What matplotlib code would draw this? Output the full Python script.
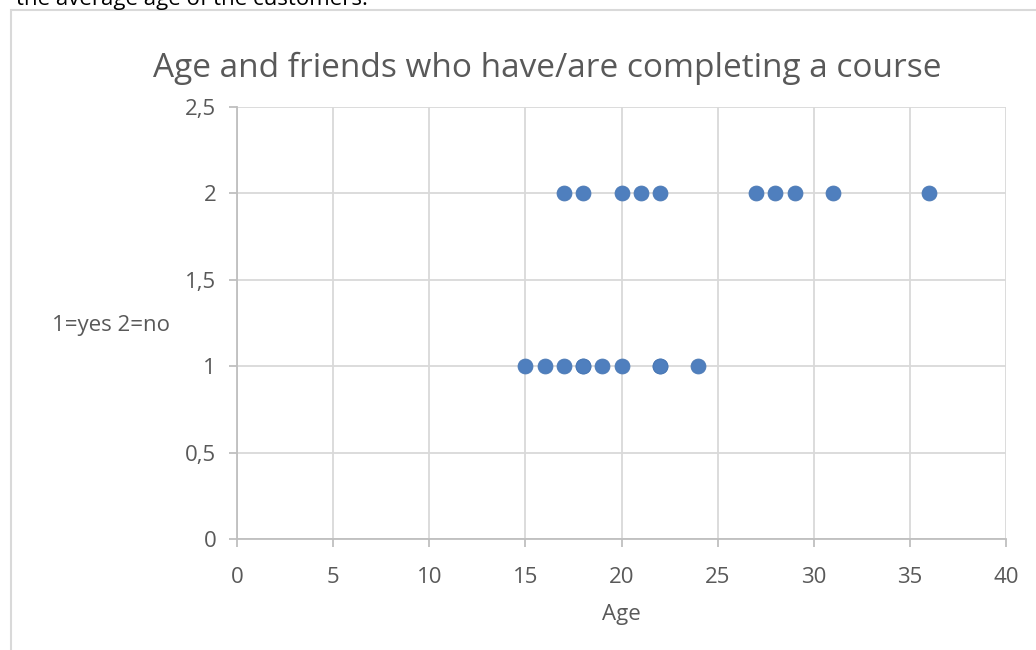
import matplotlib.pyplot as plt
from matplotlib.patches import Rectangle

# ages per answer group (1 = yes, 2 = no)
ages_yes = [15, 16, 17, 18, 18, 19, 20, 22, 22, 24]
ages_no = [17, 18, 20, 21, 22, 27, 28, 29, 31, 36]
answer_yes = [1] * len(ages_yes)
answer_no = [2] * len(ages_no)

xticks = [0, 5, 10, 15, 20, 25, 30, 35, 40]
yticks = [0, 0.5, 1, 1.5, 2, 2.5]
ytick_labels = ["0", "0,5", "1", "1,5", "2", "2,5"]

plt.rcParams["font.family"] = ["Open Sans", "DejaVu Sans"]
txt = "#595959"

fig = plt.figure(figsize=(10.36, 6.5), dpi=100)
fig.patches.append(Rectangle((11 / 1036, -0.1), 1.2, 1.1 - 10 / 650, transform=fig.transFigure,
                             fill=False, edgecolor="#D9D9D9", linewidth=1.5))
fig.text(16 / 1036, 1 - 5 / 650, "the average age of the customers.", fontsize=16,
         color="black", va="baseline", ha="left")

ax = fig.add_axes([237 / 1036, 1 - 539 / 650, (1006 - 237) / 1036, (539 - 107) / 650])
ax.scatter(ages_yes + ages_no, answer_yes + answer_no, s=115, color="#4F7FBE",
           edgecolors="#4A78B4", linewidths=0.6, zorder=3)

ax.set_xlim(0, 40)
ax.set_ylim(0, 2.5)
ax.set_xticks(xticks)
ax.set_yticks(yticks)
ax.set_yticklabels(ytick_labels)
ax.grid(True, color="#D9D9D9", linewidth=1.3)
ax.set_axisbelow(True)
for side in ["top", "right"]:
    ax.spines[side].set_visible(False)
for side in ["left", "bottom"]:
    ax.spines[side].set_color("#BFBFBF")
    ax.spines[side].set_linewidth(1.3)
ax.tick_params(direction="out", length=6, width=1.3, color="#BFBFBF",
               labelcolor=txt, labelsize=16, pad=9)
ax.tick_params(axis="x", pad=14)

ax.set_xlabel("Age", fontsize=16, color=txt, labelpad=12)
ax.set_ylabel("1=yes 2=no", fontsize=16, color=txt, rotation=0, ha="center", va="center")
ax.yaxis.set_label_coords((111 - 237) / (1006 - 237), (539 - 325) / (539 - 107))
fig.text(547 / 1036, 1 - 68 / 650, "Age and friends who have/are completing a course",
         fontsize=24, color=txt, ha="center", va="center")

fig.savefig("out.png", dpi=100)
